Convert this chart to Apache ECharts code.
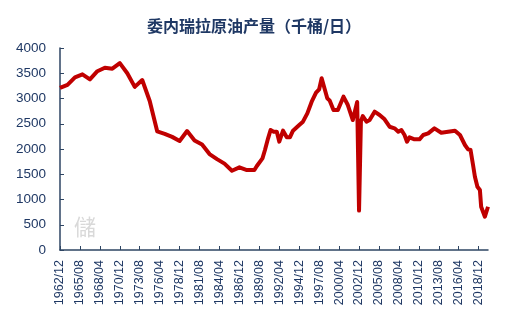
<!DOCTYPE html>
<html><head><meta charset="utf-8">
<script src="https://cdn.jsdelivr.net/npm/echarts@6/dist/echarts.min.js"></script>
<style>html,body{margin:0;padding:0;background:#fff}#c{width:511px;height:315px}</style>
</head><body><div id="c"></div>
<script>
// x axis: monthly categories from 1962/12 to 2020/03
var startYear = 1962, startMonth = 12, endYear = 2020, endMonth = 3;
var categories = [];
(function(){ var y = startYear, m = startMonth; while (y < endYear || (y === endYear && m <= endMonth)) { categories.push(y + '/' + (m < 10 ? '0' + m : m)); m++; if (m > 12) { m = 1; y++; } } })();

var dates = ['1962/12','1963/12','1964/12','1965/12','1966/12','1967/12','1968/12','1969/12','1970/12','1971/12','1972/12','1973/12','1974/12','1975/12','1976/12','1977/12','1978/12','1979/12','1980/12','1981/12','1982/12','1983/12','1984/12','1985/12','1986/12','1987/12','1988/12',
'1989/04','1990/01','1990/05','1990/10','1991/02','1991/07','1991/12','1992/04','1992/10','1993/04','1993/09','1994/02','1994/12','1995/06','1996/01','1996/08','1997/03','1997/08','1997/12','1998/03','1998/09','1999/01','1999/07','2000/02','2000/11','2001/06','2002/02','2002/09','2002/12','2003/03','2003/06','2003/12','2004/05','2005/01','2005/09','2006/05','2007/01','2007/09','2008/03','2008/08','2009/01','2009/05','2009/09','2010/05','2011/01','2011/07','2012/03','2013/01','2013/12','2014/11','2015/10','2016/06','2017/02','2017/07','2017/11','2018/03','2018/06','2018/10','2019/02','2019/04','2019/10','2020/03'];
var production = [3210,3270,3420,3478,3380,3540,3610,3590,3700,3500,3230,3366,2950,2350,2300,2240,2160,2356,2170,2090,1900,1800,1710,1570,1637,1584,1584,
1663,1815,1980,2211,2376,2343,2343,2145,2363,2231,2231,2363,2475,2541,2706,2937,3115,3182,3400,3366,3004,2957,2772,2772,3036,2871,2574,2930,780,2550,2650,2541,2574,2739,2673,2587,2441,2409,2343,2376,2277,2145,2231,2191,2191,2277,2310,2409,2323,2343,2363,2277,2079,1994,1980,1683,1451,1253,1188,857,659,857];
var yTicks = [0,500,1000,1500,2000,2500,3000,3500,4000];
var title = '委内瑞拉原油产量（千桶/日）';

var seriesData = dates.map(function(d,i){ return [d, production[i]]; });
var navy = '#1F3864';
var chart = echarts.init(document.getElementById('c'), null, {renderer:'canvas'});
chart.setOption({
  animation:false,
  title:{text:title, left:249, top:13, textAlign:'center', textStyle:{fontSize:16, fontWeight:'bold', color:navy, fontFamily:'Noto Sans CJK SC'}},
  grid:{left:60, right:23, top:48, bottom:65},
  xAxis:{type:'category', data:categories, boundaryGap:false,
    axisLine:{lineStyle:{color:'#2E4563', width:1.5}},
    axisTick:{inside:true, length:4, interval:31, lineStyle:{color:'#2E4563'}},
    axisLabel:{rotate:90, interval:31, margin:10, fontSize:12.5, color:navy, fontFamily:'Liberation Sans'}},
  yAxis:{type:'value', min:yTicks[0], max:yTicks[yTicks.length-1], interval:500,
    splitLine:{show:false},
    axisLine:{show:true, lineStyle:{color:'#2E4563', width:1.5}},
    axisTick:{show:true, inside:true, length:4, lineStyle:{color:'#2E4563'}},
    axisLabel:{margin:14, fontSize:13.5, color:navy, fontFamily:'Liberation Sans', formatter:function(v){return String(v);}}},
  graphic:[{type:'text', left:74, top:216, style:{text:'儲', fontSize:22, fill:'#d9d9d9', fontFamily:'Noto Sans CJK TC'}}],
  series:[{type:'line', data:seriesData, showSymbol:false, symbol:'none',
    lineStyle:{color:'#C00000', width:4, join:'round'}}]
});
</script></body></html>
